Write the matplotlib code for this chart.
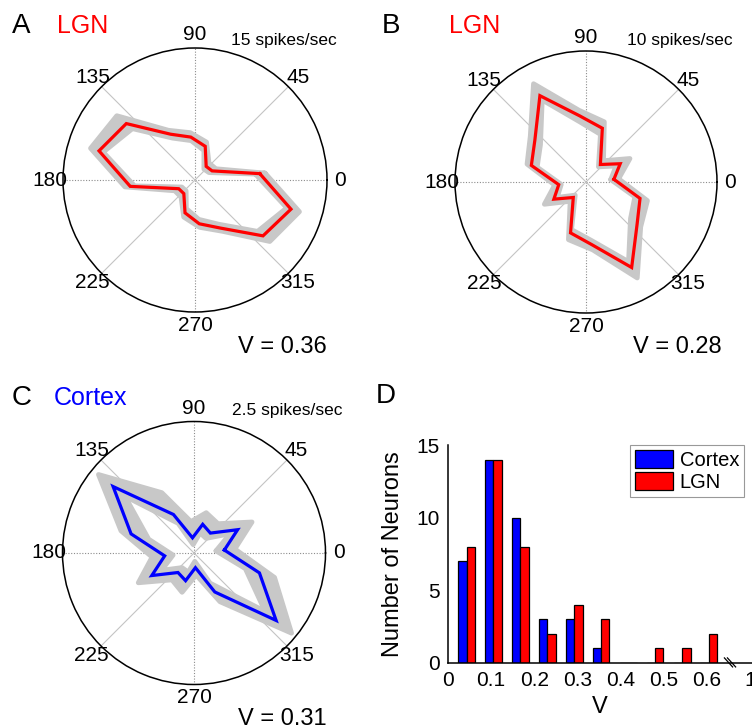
import numpy as np
import matplotlib
matplotlib.use('Agg')
import matplotlib.pyplot as plt

plt.rcParams['font.family'] = ['Liberation Sans', 'DejaVu Sans']

# ---------------- data ----------------
directions_deg = [5.6, 28.1, 50.6, 73.1, 95.6, 118.1, 140.6, 163.1,
                  185.6, 208.1, 230.6, 253.1, 275.6, 298.1, 320.6, 343.1]

# Panel A (LGN, 15 spikes/sec)
lgn_a_mean = [7.4, 2.2, 2.0, 4.0, 4.9, 5.9, 10.1, 11.4, 7.4, 2.1, 2.0, 3.9, 5.0, 6.2, 10.0, 11.4]
lgn_a_low = [6.9, 1.8, 1.6, 3.5, 4.5, 5.4, 9.2, 10.9, 6.9, 1.7, 1.6, 3.4, 4.5, 5.7, 9.2, 10.9]
lgn_a_high = [8.0, 2.7, 2.5, 4.5, 5.4, 6.4, 11.5, 12.4, 8.0, 2.6, 2.5, 4.4, 5.4, 6.6, 11.0, 12.4]

# Panel B (LGN, 10 spikes/sec)
lgn_b_mean = [2.14, 2.96, 1.73, 4.29, 5.08, 7.47, 5.05, 4.36, 2.09, 2.78, 1.53, 4.06, 4.82, 7.40, 5.05, 4.31]
lgn_b_low = [1.9, 2.6, 1.5, 3.8, 4.6, 7.1, 4.5, 3.9, 1.9, 2.5, 1.3, 3.8, 4.5, 6.9, 4.4, 3.9]
lgn_b_high = [2.5, 3.8, 2.1, 4.8, 5.5, 8.5, 5.5, 4.7, 2.4, 3.6, 1.9, 4.6, 5.2, 8.3, 5.4, 4.9]

# Panel C (Cortex, 2.5 spikes/sec)
ctx_c_mean = [0.58, 0.94, 0.49, 0.57, 0.29, 0.83, 1.99, 1.25, 0.56, 0.91, 0.48, 0.55, 0.28, 0.84, 2.02, 1.30]
ctx_c_low = [0.42, 0.78, 0.36, 0.40, 0.16, 0.64, 1.70, 0.90, 0.40, 0.70, 0.36, 0.38, 0.16, 0.65, 1.75, 1.02]
ctx_c_high = [0.78, 1.25, 0.72, 0.80, 0.60, 1.30, 2.35, 1.45, 0.80, 1.20, 0.66, 0.78, 0.42, 1.05, 2.40, 1.60]

grid_angles = [0, 45, 90, 135, 180, 225, 270, 315]

# Panel D histogram
bin_centers = [0.043, 0.105, 0.168, 0.23, 0.293, 0.355, 0.418, 0.48, 0.543, 0.605]
cortex_counts = [7, 14, 10, 3, 3, 1, 0, 0, 0, 0]
lgn_counts = [8, 14, 8, 2, 4, 3, 0, 1, 1, 2]
x_tick_pos = [0, 0.1, 0.2, 0.3, 0.4, 0.5, 0.6, 0.7]
x_tick_labels = ['0', '0.1', '0.2', '0.3', '0.4', '0.5', '0.6', '1']
y_ticks = [0, 5, 10, 15]

W, H = 752, 727
fig = plt.figure(figsize=(W / 100, H / 100), dpi=100)


def px_rect(cx, cy, r):
    return [(cx - r) / W, 1 - (cy + r) / H, 2 * r / W, 2 * r / H]


def ftext(x, y, s, **kw):
    fig.text(x / W, 1 - y / H, s, **kw)


def polar_panel(rect, mean, low, high, color, rmax):
    ax = fig.add_axes(rect, projection='polar')
    th = np.deg2rad(directions_deg)
    thc = np.append(th, th[0])
    hi = np.append(high, high[0])
    lo = np.append(low, low[0])
    mc = np.append(mean, mean[0])
    ax.grid(False)
    ax.set_xticks([])
    ax.set_yticks([])
    for a in grid_angles:
        t = np.deg2rad(a)
        if a % 90 == 0:
            ax.plot([t, t], [0, rmax], ls=(0, (1, 1.5)), color='#8c8c8c', lw=0.8, zorder=1)
        else:
            ax.plot([t, t], [0, rmax], ls='-', color='#c4c4c4', lw=0.8, zorder=1)
        ax.text(t, rmax * 1.10, str(a), ha='center', va='center', fontsize=15,
                clip_on=False)
    ax.fill(np.concatenate([thc, thc[::-1]]), np.concatenate([hi, lo[::-1]]),
            facecolor='#c8c8c8', edgecolor='#c8c8c8', lw=3.5, joinstyle='round',
            zorder=2)
    ax.plot(thc, mc, color=color, lw=2.3, zorder=3, solid_joinstyle='miter')
    ax.set_ylim(0, rmax)
    ax.spines['polar'].set_linewidth(1.1)
    ax.spines['polar'].set_color('black')
    return ax


polar_panel(px_rect(195, 180, 132), lgn_a_mean, lgn_a_low, lgn_a_high, '#ff0000', 15)
polar_panel(px_rect(586, 182, 131), lgn_b_mean, lgn_b_low, lgn_b_high, '#ff0000', 10)
polar_panel(px_rect(194, 553, 131.5), ctx_c_mean, ctx_c_low, ctx_c_high, '#0000ff', 2.5)

# Panel texts
ftext(12, 33, 'A', fontsize=20, va='baseline')
ftext(57, 33, 'LGN', fontsize=18, color='#ff0000', va='baseline')
ftext(231, 45, '15 spikes/sec', fontsize=12.5, va='baseline')
ftext(238, 353, 'V = 0.36', fontsize=17, va='baseline')

ftext(382, 33, 'B', fontsize=20, va='baseline')
ftext(449, 33, 'LGN', fontsize=18, color='#ff0000', va='baseline')
ftext(627, 45, '10 spikes/sec', fontsize=12.5, va='baseline')
ftext(633, 353, 'V = 0.28', fontsize=17, va='baseline')

ftext(12, 405, 'C', fontsize=20, va='baseline')
ftext(54, 405, 'Cortex', fontsize=18, color='#0000ff', va='baseline')
ftext(232, 415, '2.5 spikes/sec', fontsize=12.5, va='baseline')
ftext(238, 725, 'V = 0.31', fontsize=17, va='baseline')

ftext(376, 403, 'D', fontsize=20, va='baseline')

# Panel D
axd = fig.add_axes([448 / W, 1 - 663 / H, 304 / W, 218 / H])
bw = 0.0195
bc = np.array(bin_centers)
axd.bar(bc - bw, cortex_counts, width=bw, align='edge', color='#0000ff',
        edgecolor='black', lw=0.9, label='Cortex', zorder=2)
axd.bar(bc, lgn_counts, width=bw, align='edge', color='#ff0000',
        edgecolor='black', lw=0.9, label='LGN', zorder=2)
axd.set_xlim(0, 0.705)
axd.set_ylim(0, 15)
axd.set_xticks(x_tick_pos)
axd.set_xticklabels(x_tick_labels)
axd.set_yticks(y_ticks)
axd.tick_params(length=0, labelsize=15, pad=6)
for s in ['top', 'right']:
    axd.spines[s].set_visible(False)
for s in ['left', 'bottom']:
    axd.spines[s].set_linewidth(1.1)
axd.set_xlabel('V', fontsize=17, labelpad=4)
axd.set_ylabel('Number of Neurons', fontsize=17, labelpad=9)
# axis break marks
for off in (0.0, 0.007):
    axd.plot([0.641 + off, 0.660 + off], [0.35, -0.27], color='black', lw=0.9,
             clip_on=False, zorder=3)
leg = axd.legend(loc='upper right', bbox_to_anchor=(0.975, 1.0), fontsize=14.5,
                 frameon=True, fancybox=False, edgecolor='#808080',
                 handlelength=1.9, handleheight=1.0, handletextpad=0.35,
                 borderpad=0.25, labelspacing=0.1, borderaxespad=0.0)
leg.get_frame().set_linewidth(0.8)

fig.savefig('out.png', dpi=100)
